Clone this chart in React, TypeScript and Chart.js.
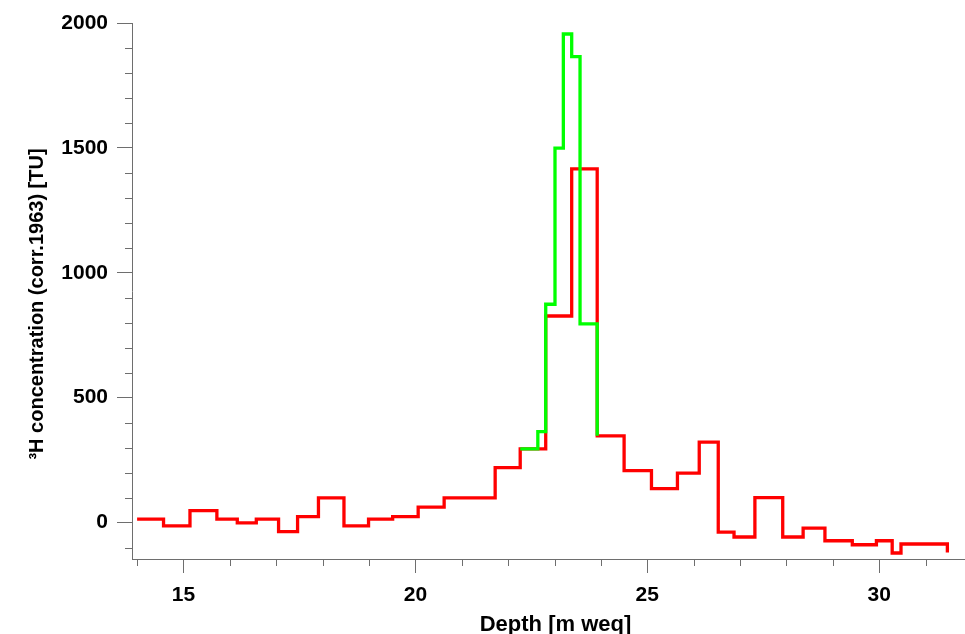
import React, { useEffect, useRef } from 'react';
import { Chart, registerables } from 'chart.js';

Chart.register(...registerables);

// Red profile: depth where each layer starts [m weq] and its tritium content [TU].
// The last entry closes the final layer.
const redDepth = [
  14.0, 14.57, 15.14, 15.72, 16.16, 16.57, 17.05, 17.46, 17.91, 18.46, 18.99, 19.51,
  20.06, 20.62, 21.72, 22.26, 22.81, 23.37, 23.92, 24.5, 25.09, 25.65, 26.12, 26.53,
  26.87, 27.32, 27.92, 28.36, 28.83, 29.42, 29.94, 30.28, 30.47, 31.47,
];
const redTU = [
  14, -13, 48, 14, -1, 14, -36, 24, 99, -13, 14, 24,
  62, 99, 220, 295, 827, 1416, 347, 208, 136, 198, 322, -38,
  -58, 100, -58, -22, -73, -89, -73, -122, -86, -120,
];

// Green profile: finer sampling around the 1963 peak.
const greenDepth = [22.26, 22.64, 22.81, 23.01, 23.19, 23.37, 23.55, 23.92];
const greenTU = [295, 364, 874, 1499, 1956, 1865, 795, 347];

// Axis ticks
const xMajorTicks = [15, 20, 25, 30];
const xMinorTicks = [14, 16, 17, 18, 19, 21, 22, 23, 24, 26, 27, 28, 29, 31];
const yMajorTicks = [0, 500, 1000, 1500, 2000];
const yMinorTicks = [-100, 100, 200, 300, 400, 600, 700, 800, 900, 1100, 1200, 1300, 1400, 1600, 1700, 1800, 1900];

const X_MIN = 13.89;
const X_MAX = 31.85;
const Y_MIN = -146;
const Y_MAX = 2000;

const X_TITLE = 'Depth [m weq]';
const Y_TITLE = '\u00B3H concentration (corr.1963) [TU]';

const AXIS_GREY = '#6e6e6e';
const FONT_FAMILY = '"Liberation Sans", Arial, Helvetica, sans-serif';

const toPoints = (xs: number[], ys: number[]) => xs.map((x, i) => ({ x, y: ys[i] }));

// Short minor ticks plus the two axis titles.
const axisDecorations = {
  id: 'axisDecorations',
  afterDraw(chart: any) {
    const { ctx, chartArea, scales } = chart;
    ctx.save();
    ctx.strokeStyle = AXIS_GREY;
    ctx.lineWidth = 1;
    ctx.beginPath();
    xMinorTicks.forEach((v) => {
      const px = Math.round(scales.x.getPixelForValue(v)) + 0.5;
      ctx.moveTo(px, chartArea.bottom);
      ctx.lineTo(px, chartArea.bottom + 7);
    });
    yMinorTicks.forEach((v) => {
      const py = Math.round(scales.y.getPixelForValue(v)) + 0.5;
      ctx.moveTo(chartArea.left - 7, py);
      ctx.lineTo(chartArea.left, py);
    });
    ctx.stroke();

    ctx.fillStyle = '#000';
    ctx.textAlign = 'center';
    ctx.textBaseline = 'alphabetic';
    ctx.font = `bold 22px ${FONT_FAMILY}`;
    ctx.fillText(X_TITLE, (chartArea.left + chartArea.right) / 2 + 7, chartArea.bottom + 72);

    ctx.font = `bold 20px ${FONT_FAMILY}`;
    ctx.translate(chartArea.left - 89, (chartArea.top + chartArea.bottom) / 2 + 13);
    ctx.rotate(-Math.PI / 2);
    ctx.fillText(Y_TITLE, 0, 0);
    ctx.restore();
  },
};

export default function App() {
  const canvasRef = useRef<HTMLCanvasElement | null>(null);

  useEffect(() => {
    document.body.style.margin = '0';
    const canvas = canvasRef.current;
    if (!canvas) return;

    const tickFont = { family: FONT_FAMILY, size: 21, weight: 'bold' as const };
    const plainNumber = (v: number | string) => String(v);

    const chart = new Chart(canvas, {
      type: 'line',
      data: {
        datasets: [
          {
            label: 'green',
            data: toPoints(greenDepth, greenTU),
            borderColor: '#00ff00',
            borderWidth: 3.3,
            pointRadius: 0,
            stepped: true,
            fill: false,
            borderJoinStyle: 'miter',
          },
          {
            label: 'red',
            data: toPoints(redDepth, redTU),
            borderColor: '#ff0000',
            borderWidth: 3.3,
            pointRadius: 0,
            stepped: true,
            fill: false,
            borderJoinStyle: 'miter',
          },
        ],
      },
      options: {
        animation: false,
        responsive: false,
        devicePixelRatio: 1,
        layout: { padding: { top: 23, right: 0, bottom: 0, left: 0 } },
        plugins: {
          legend: { display: false },
          tooltip: { enabled: false },
          title: { display: false },
        },
        scales: {
          x: {
            type: 'linear',
            min: X_MIN,
            max: X_MAX,
            afterBuildTicks: (scale: any) => {
              scale.ticks = xMajorTicks.map((value) => ({ value }));
            },
            afterFit: (scale: any) => {
              scale.height = 75;
            },
            ticks: {
              autoSkip: false,
              maxRotation: 0,
              padding: 10,
              color: '#000',
              font: tickFont,
              callback: plainNumber,
            },
            grid: {
              display: true,
              drawOnChartArea: false,
              drawTicks: true,
              tickLength: 14,
              tickColor: AXIS_GREY,
              tickWidth: 1,
            },
            border: { display: true, color: AXIS_GREY, width: 1 },
          },
          y: {
            type: 'linear',
            min: Y_MIN,
            max: Y_MAX,
            afterBuildTicks: (scale: any) => {
              scale.ticks = yMajorTicks.map((value) => ({ value }));
            },
            afterFit: (scale: any) => {
              scale.width = 132;
            },
            ticks: {
              autoSkip: false,
              padding: 9,
              color: '#000',
              font: tickFont,
              callback: plainNumber,
            },
            grid: {
              display: true,
              drawOnChartArea: false,
              drawTicks: true,
              tickLength: 15,
              tickColor: AXIS_GREY,
              tickWidth: 1,
            },
            border: { display: true, color: AXIS_GREY, width: 1 },
          },
        },
      },
      plugins: [axisDecorations],
    });

    return () => chart.destroy();
  }, []);

  return (
    <div style={{ position: 'absolute', left: 0, top: 0, width: 965, height: 634, background: '#fff' }}>
      <canvas ref={canvasRef} width={965} height={634} />
    </div>
  );
}
